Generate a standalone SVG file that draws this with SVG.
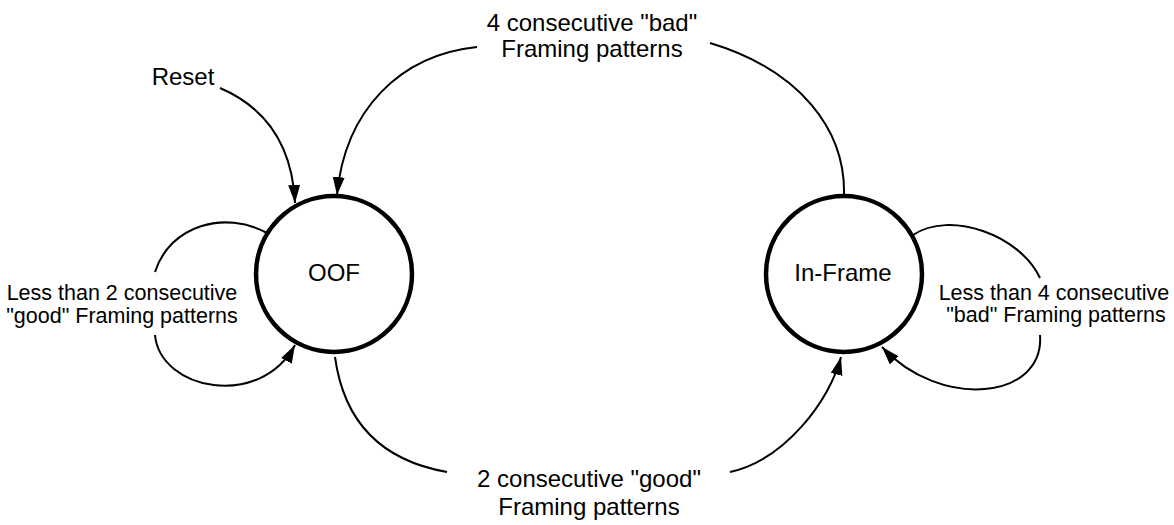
<svg xmlns="http://www.w3.org/2000/svg" width="1174" height="525" viewBox="0 0 1174 525">
<style>
.state{fill:#fff;stroke:#000;stroke-width:4.5}
.lbl{font-family:"Liberation Sans",Arial,sans-serif;font-size:24px;fill:#000;text-anchor:middle}
.sm{font-family:"Liberation Sans",Arial,sans-serif;font-size:21.5px;fill:#000;text-anchor:middle}
.edge{fill:none;stroke:#000;stroke-width:2}
</style>
<defs>
<marker id="arr" markerUnits="userSpaceOnUse" markerWidth="20" markerHeight="14" refX="18" refY="6" orient="auto">
<path d="M0,0 L18,6 L0,12 z" fill="#000"/>
</marker>
</defs>
<rect width="1174" height="525" fill="#fff"/>
<g id="connectors">
<path class="edge" d="M220 88 C262 106,292 140,295 203" marker-end="url(#arr)"/>
<path class="edge" d="M844 196 C846 130,800 70,710 43"/>
<path class="edge" d="M477 47 C400 55,345 110,337 195" marker-end="url(#arr)"/>
<path class="edge" d="M335 357 C345 430,390 462,447 472"/>
<path class="edge" d="M730 472 C785 460,830 400,841 357" marker-end="url(#arr)"/>
<path class="edge" d="M267 233 C225 210,170 225,155 272"/>
<path class="edge" d="M155 335 C160 390,260 410,295 345" marker-end="url(#arr)"/>
<path class="edge" d="M913 235 C950 210,1020 235,1040 278"/>
<path class="edge" d="M1040 335 C1045 400,940 410,882 347" marker-end="url(#arr)"/>
</g>
<g id="node-oof">
<circle class="state" cx="334" cy="274" r="78"/>
<text class="lbl" x="334" y="281">OOF</text>
</g>
<g id="node-inframe">
<circle class="state" cx="844" cy="274" r="78"/>
<text class="lbl" x="843" y="281">In-Frame</text>
</g>
<g id="labels">
<text class="lbl" x="183" y="85">Reset</text>
<text class="lbl" x="592" y="31">4 consecutive "bad"</text>
<text class="lbl" x="592" y="57">Framing patterns</text>
<text class="lbl" x="589" y="487">2 consecutive "good"</text>
<text class="lbl" x="589" y="515">Framing patterns</text>
<text class="sm" x="122" y="300">Less than 2 consecutive</text>
<text class="sm" x="122" y="323">"good" Framing patterns</text>
<text class="sm" x="1054" y="300">Less than 4 consecutive</text>
<text class="sm" x="1056" y="322">"bad" Framing patterns</text>
</g>
</svg>
